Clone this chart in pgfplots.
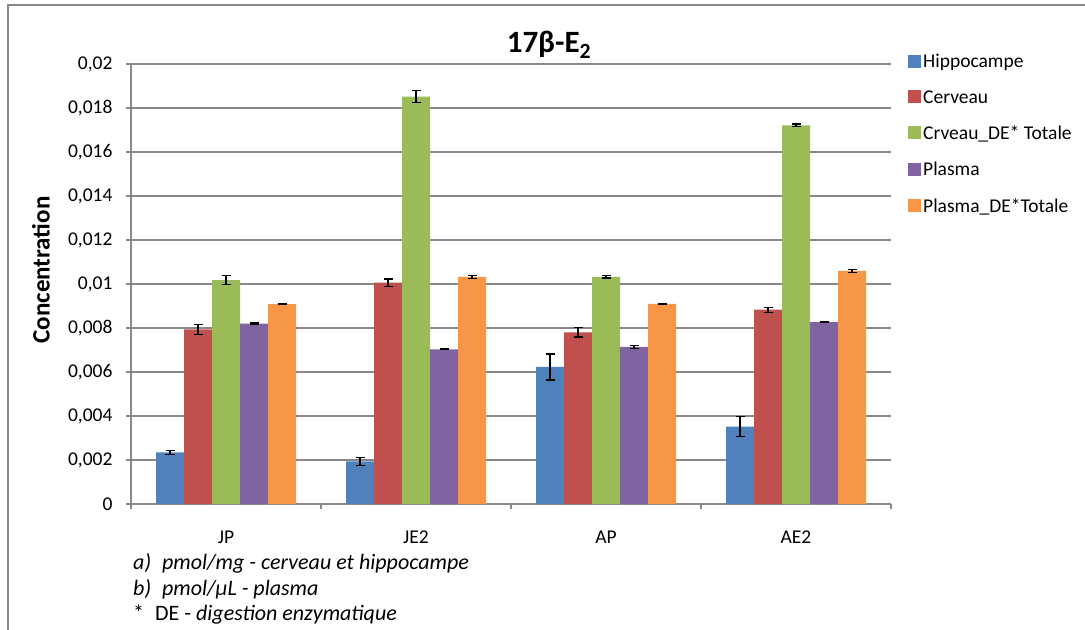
\documentclass[border=0pt]{standalone}
\usepackage{pgfplots}
\pgfplotsset{compat=1.18}
\usepackage{fontspec}
\setmainfont{Carlito}

\definecolor{hipp}{HTML}{4F81BD}
\definecolor{cerv}{HTML}{C0504D}
\definecolor{cervde}{HTML}{9BBB59}
\definecolor{plas}{HTML}{8064A2}
\definecolor{plasde}{HTML}{F79646}
\definecolor{gridgray}{HTML}{888888}

\begin{document}
\begin{tikzpicture}
\path[use as bounding box] (0,0) rectangle (1085bp,-630bp);
\draw[gridgray, line width=1.3bp] (8bp,-5bp) rectangle (1100bp,-650bp);

\begin{axis}[
    at={(131bp,-504bp)}, anchor=south west,
    scale only axis, width=760bp, height=440bp,
    ybar=0pt, bar width=28bp,
    xmin=-0.5, xmax=3.5,
    ymin=0, ymax=0.02,
    xtick={0,1,2,3},
    xticklabels={JP,JE2,AP,AE2},
    minor xtick={-0.5,0.5,1.5,2.5,3.5},
    major x tick style={draw=none},
    ytick={0,0.002,...,0.02},
    scaled y ticks=false,
    /pgf/number format/fixed,
    /pgf/number format/precision=3,
    /pgf/number format/use comma,
    /pgf/number format/assume math mode=true,
    tick align=outside,
    major tick length=5bp, minor tick length=5bp,
    tick style={gridgray, line width=1.3bp},
    axis x line*=bottom, axis y line*=left,
    axis line style={gridgray, line width=1.3bp, -},
    ymajorgrids, grid style={gridgray, line width=1.3bp},
    tick label style={font=\fontsize{19.5bp}{22bp}\selectfont, black},
    xticklabel style={yshift=-18bp},
    yticklabel style={xshift=-10bp},
    ylabel={\textbf{Concentration}},
    every axis y label/.style={at={([xshift=-90bp, yshift=14bp]axis description cs:0,0.5)}, rotate=90, anchor=center,
        font=\fontsize{25bp}{28bp}\selectfont},
    legend style={draw=none, fill=none, at={(1,1)}, anchor=north west, xshift=14bp, yshift=14bp,
        font=\fontsize{19.5bp}{22bp}\selectfont, row sep=17.3bp},
    legend cell align=left,
    legend image code/.code={\fill[#1, draw=none] (0bp,-6bp) rectangle (13bp,7bp);},
    error bars/y dir=both, error bars/y explicit,
    error bars/error bar style={black, line width=1.2bp},
    error bars/error mark options={rotate=90, mark size=4.5bp, black, line width=1.2bp},
]
\addplot[fill=hipp, draw=none] coordinates {
    (0,0.00235) +- (0,0.0001)
    (1,0.00194) +- (0,0.00019)
    (2,0.00623) +- (0,0.00059)
    (3,0.00352) +- (0,0.00045)
};
\addlegendentry{Hippocampe}
\addplot[fill=cerv, draw=none] coordinates {
    (0,0.00794) +- (0,0.00023)
    (1,0.01006) +- (0,0.00017)
    (2,0.0078) +- (0,0.00021)
    (3,0.00883) +- (0,0.00011)
};
\addlegendentry{Cerveau}
\addplot[fill=cervde, draw=none] coordinates {
    (0,0.01018) +- (0,0.0002)
    (1,0.01852) +- (0,0.00027)
    (2,0.01032) +- (0,0.00005)
    (3,0.01721) +- (0,0.00006)
};
\addlegendentry{Crveau\_DE* Totale}
\addplot[fill=plas, draw=none] coordinates {
    (0,0.0082) +- (0,0.00003)
    (1,0.00703) +- (0,0.00002)
    (2,0.00714) +- (0,0.00008)
    (3,0.00827) +- (0,0.00003)
};
\addlegendentry{Plasma}
\addplot[fill=plasde, draw=none] coordinates {
    (0,0.00909) +- (0,0.00002)
    (1,0.01032) +- (0,0.00007)
    (2,0.0091) +- (0,0.00003)
    (3,0.0106) +- (0,0.00007)
};
\addlegendentry{Plasma\_DE*Totale}
\end{axis}

\node[font=\fontsize{31bp}{34bp}\selectfont\bfseries] at (549bp,-45bp) {17β-E\textsubscript{2}};
\begin{scope}[every node/.style={anchor=west, inner sep=0pt, font=\fontsize{22bp}{26bp}\selectfont}]
\node at (133bp,-563bp) {\textit{a)\enspace pmol/mg - cerveau et hippocampe}};
\node at (133bp,-589bp) {\textit{b)\enspace pmol/µL - plasma}};
\node at (133bp,-615bp) {*\enspace DE - \textit{digestion enzymatique}};
\end{scope}
\end{tikzpicture}
\end{document}
